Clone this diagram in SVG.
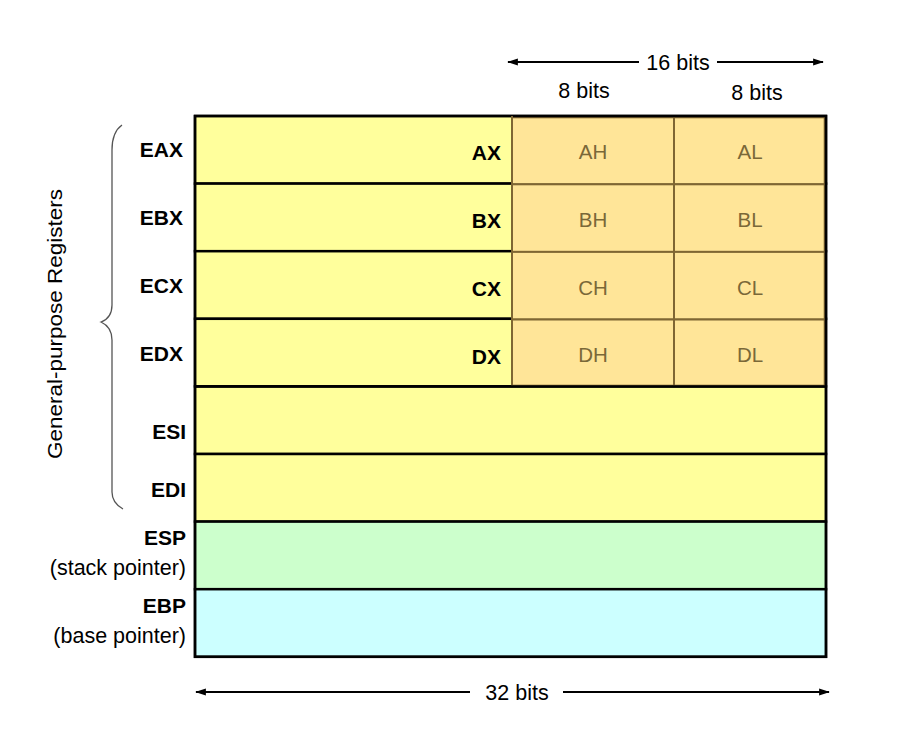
<svg xmlns="http://www.w3.org/2000/svg" width="898" height="735" viewBox="0 0 898 735">
<defs>
<style>
.t{font-family:"Liberation Sans",Arial,sans-serif;font-size:21.5px;fill:#000}
.b{font-family:"Liberation Sans",Arial,sans-serif;font-size:21px;font-weight:bold;fill:#000}
.s{font-family:"Liberation Sans",Arial,sans-serif;font-size:20.5px;fill:#7a6838}
.y{fill:#ffff9c;stroke:#000;stroke-width:2.5}
.o{fill:#ffe598;stroke:#7f6633;stroke-width:2}
.g{fill:#ccffcc;stroke:#000;stroke-width:2.5}
.c{fill:#ccffff;stroke:#000;stroke-width:2.5}
.ln{stroke:#000;stroke-width:2.2;fill:none}
</style>
<marker id="ah" viewBox="0 0 12 10" refX="11" refY="5" markerWidth="12" markerHeight="9" orient="auto-start-reverse" markerUnits="userSpaceOnUse">
<path d="M0,1 L12,5 L0,9 z" fill="#000"/>
</marker>
</defs>
<rect width="898" height="735" fill="#fff"/>

<g id="eax"><rect class="y" x="195" y="116" width="631" height="67.6"/><text class="b" x="183" y="157" text-anchor="end">EAX</text><text class="b" x="501" y="160" text-anchor="end">AX</text></g>
<g id="ebx"><rect class="y" x="195" y="183.6" width="631" height="67.6"/><text class="b" x="183" y="225" text-anchor="end">EBX</text><text class="b" x="501" y="228" text-anchor="end">BX</text></g>
<g id="ecx"><rect class="y" x="195" y="251.2" width="631" height="67.6"/><text class="b" x="183" y="293" text-anchor="end">ECX</text><text class="b" x="501" y="296" text-anchor="end">CX</text></g>
<g id="edx"><rect class="y" x="195" y="318.8" width="631" height="67.6"/><text class="b" x="183" y="361" text-anchor="end">EDX</text><text class="b" x="501" y="364" text-anchor="end">DX</text></g>
<g id="esi"><rect class="y" x="195" y="386.4" width="631" height="67.6"/><text class="b" x="186" y="439" text-anchor="end">ESI</text></g>
<g id="edi"><rect class="y" x="195" y="454" width="631" height="67.6"/><text class="b" x="186" y="497" text-anchor="end">EDI</text></g>
<g id="esp"><rect class="g" x="195" y="521.6" width="631" height="67.6"/><text class="b" x="186" y="545" text-anchor="end">ESP</text><text class="t" x="186" y="575" text-anchor="end">(stack pointer)</text></g>
<g id="ebp"><rect class="c" x="195" y="589.2" width="631" height="67.6"/><text class="b" x="186" y="613" text-anchor="end">EBP</text><text class="t" x="186" y="643" text-anchor="end">(base pointer)</text></g>

<g id="ah-al">
<rect class="o" x="512" y="117.3" width="162" height="67"/><text class="s" x="593" y="159" text-anchor="middle">AH</text>
<rect class="o" x="674" y="117.3" width="150.7" height="67"/><text class="s" x="750" y="159" text-anchor="middle">AL</text>
<rect class="o" x="512" y="184.3" width="162" height="67.6"/><text class="s" x="593" y="227" text-anchor="middle">BH</text>
<rect class="o" x="674" y="184.3" width="150.7" height="67.6"/><text class="s" x="750" y="227" text-anchor="middle">BL</text>
<rect class="o" x="512" y="251.9" width="162" height="67.6"/><text class="s" x="593" y="295" text-anchor="middle">CH</text>
<rect class="o" x="674" y="251.9" width="150.7" height="67.6"/><text class="s" x="750" y="295" text-anchor="middle">CL</text>
<rect class="o" x="512" y="319.5" width="162" height="66.2"/><text class="s" x="593" y="362" text-anchor="middle">DH</text>
<rect class="o" x="674" y="319.5" width="150.7" height="66.2"/><text class="s" x="750" y="362" text-anchor="middle">DL</text>
</g>
<g id="frame"><rect x="195" y="116" width="631" height="540.8" fill="none" stroke="#000" stroke-width="2.5"/>
<line x1="512" y1="116" x2="512" y2="386.4" stroke="#7f6633" stroke-width="2"/>
<line x1="195" y1="386.4" x2="826" y2="386.4" stroke="#000" stroke-width="2.5"/>
</g>

<g id="connectors">
<line class="ln" x1="639" y1="62" x2="508" y2="62" marker-end="url(#ah)"/>
<line class="ln" x1="717" y1="62" x2="823" y2="62" marker-end="url(#ah)"/>
<line class="ln" x1="470" y1="692" x2="196" y2="692" marker-end="url(#ah)"/>
<line class="ln" x1="563" y1="692" x2="829" y2="692" marker-end="url(#ah)"/>
<path d="M122,125 Q112,132 112,150 L112,305 Q112,318 101,322 Q112,327 112,340 L112,492 Q112,503 123,509" fill="none" stroke="#555" stroke-width="1.3"/>
</g>

<g id="labels">
<text class="t" x="678" y="70" text-anchor="middle">16 bits</text>
<text class="t" x="584" y="98" text-anchor="middle">8 bits</text>
<text class="t" x="757" y="100" text-anchor="middle">8 bits</text>
<text class="t" x="517" y="700" text-anchor="middle">32 bits</text>
<text class="t" transform="translate(62,324) rotate(-90)" text-anchor="middle" textLength="270" lengthAdjust="spacingAndGlyphs" style="font-size:20.5px">General-purpose Registers</text>
</g>
</svg>
